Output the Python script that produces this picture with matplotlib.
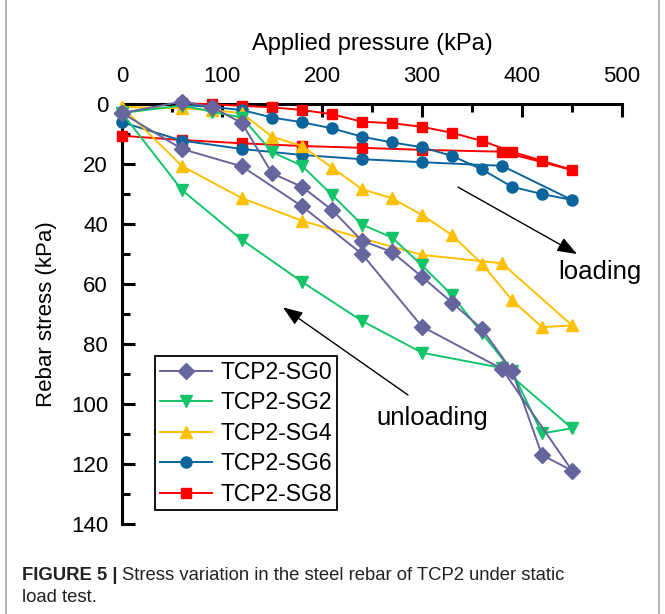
import matplotlib
matplotlib.use('Agg')
import matplotlib.pyplot as plt
from matplotlib.lines import Line2D
from matplotlib.ticker import MultipleLocator

plt.rcParams['font.family'] = ['Liberation Sans', 'DejaVu Sans']

# applied pressure steps (kPa)
x_load = [0, 60, 90, 120, 150, 180, 210, 240, 270, 300, 330, 360, 390, 420, 450]
x_load_late = [60, 90, 120, 150, 180, 210, 240, 270, 300, 330, 360, 390, 420, 450]
x_unload = [450, 380, 300, 240, 180, 120, 60, 0]

# rebar stress (kPa), loading then unloading
sg0_load = [3.0, -0.8, 1.0, 6.4, 23.1, 27.6, 35.3, 45.6, 49.3, 57.6, 66.2, 75.0, 88.9, 117.0, 122.2]
sg0_unload = [122.2, 88.3, 74.2, 50.0, 34.1, 20.8, 15.0, 3.0]

sg2_load = [3.0, 0.5, 2.6, 4.5, 16.0, 20.6, 30.3, 40.2, 44.5, 53.8, 63.7, 76.4, 89.0, 109.8, 108.1]
sg2_unload = [108.1, 88.0, 82.9, 72.3, 59.3, 45.3, 28.7, 3.0]

sg4_load = [1.0, 1.4, 2.0, 3.1, 10.9, 14.0, 21.2, 28.4, 31.4, 37.0, 43.7, 53.3, 65.3, 74.4, 73.8]
sg4_unload = [73.8, 53.1, 50.3, 44.8, 38.9, 31.4, 20.7, 1.0]

sg6_load = [0.3, 1.0, 2.0, 4.5, 6.1, 8.1, 10.9, 12.8, 14.4, 17.3, 21.8, 27.6, 30.0, 32.0]
sg6_unload = [32.0, 20.6, 19.4, 18.4, 17.0, 15.0, 12.2, 6.1]

sg8_load = [-0.3, 0.1, 0.6, 1.1, 2.0, 3.4, 5.9, 6.4, 7.6, 9.6, 12.3, 15.9, 18.9, 22.0]
sg8_unload = [22.0, 15.9, 15.3, 14.6, 14.0, 13.1, 12.0, 10.6]

series = [
    ('TCP2-SG0', x_load, sg0_load, sg0_unload, '#67659d', 'D', 8.5),
    ('TCP2-SG2', x_load, sg2_load, sg2_unload, '#13c46a', 'v', 8.5),
    ('TCP2-SG4', x_load, sg4_load, sg4_unload, '#ffc000', '^', 8.5),
    ('TCP2-SG6', x_load_late, sg6_load, sg6_unload, '#0b659c', 'o', 8),
    ('TCP2-SG8', x_load_late, sg8_load, sg8_unload, '#ff0000', 's', 7),
]

fig = plt.figure(figsize=(6.65, 6.14), dpi=100)
ax = fig.add_axes([122 / 665, 1 - 524 / 614, 500 / 665, 420 / 614])

# first series drawn on top
for i, (name, xl, yl, yu, col, mk, ms) in enumerate(series):
    xs = list(xl) + x_unload[1:]
    ys = list(yl) + yu[1:]
    ax.plot(xs, ys, color=col, marker=mk, markersize=ms, markeredgecolor=col,
            linewidth=1.4, label=name, clip_on=False, zorder=10 - i)

ax.set_xlim(0, 500)
ax.set_ylim(140, 0)
ax.xaxis.tick_top()
ax.xaxis.set_label_position('top')
ax.xaxis.set_major_locator(MultipleLocator(100))
ax.xaxis.set_minor_locator(MultipleLocator(50))
ax.yaxis.set_major_locator(MultipleLocator(20))
ax.yaxis.set_minor_locator(MultipleLocator(10))
for s in ['right', 'bottom']:
    ax.spines[s].set_visible(False)
for s in ['left', 'top']:
    ax.spines[s].set_linewidth(2.2)
ax.tick_params(which='major', direction='in', length=9, width=2.2, labelsize=16)
ax.tick_params(axis='x', which='major', pad=12)
ax.tick_params(axis='y', which='major', pad=10)
ax.tick_params(which='minor', direction='in', length=6, width=2.2)
ax.tick_params(axis='x', which='both', top=True, bottom=False)
ax.set_xlabel('Applied pressure (kPa)', fontsize=17, labelpad=12)
ax.set_ylabel('Rebar stress (kPa)', fontsize=16, labelpad=10)

ax.annotate('', xy=(455, 50), xytext=(336, 27.7),
            arrowprops=dict(arrowstyle='-|>,head_length=1.2,head_width=0.45',
                            color='black', lw=1.0, shrinkA=0, shrinkB=0))
ax.annotate('', xy=(161, 67.8), xytext=(286, 97),
            arrowprops=dict(arrowstyle='-|>,head_length=1.2,head_width=0.45',
                            color='black', lw=1.0, shrinkA=0, shrinkB=0))
ax.text(436, 56, 'loading', fontsize=18.5, va='center', ha='left')
ax.text(254, 104.7, 'unloading', fontsize=18.5, va='center', ha='left')

leg = ax.legend(loc='upper left', bbox_to_anchor=(0.066, 0.40), borderaxespad=0,
                fontsize=16.5, frameon=True, fancybox=False, framealpha=1,
                edgecolor='black', handlelength=2.3, labelspacing=0.33,
                borderpad=0.2, handletextpad=0.35)
leg.get_frame().set_linewidth(1.3)
leg.set_zorder(20)

# panel borders
for xf in [6 / 665, 659 / 665]:
    fig.add_artist(Line2D([xf, xf], [0, 1], color='#b8b8b8', lw=1.5))

cap_font = ['Liberation Sans Narrow', 'Liberation Sans', 'DejaVu Sans']
t1 = fig.text(22 / 665, 1 - 575 / 614, 'FIGURE 5 |', fontsize=13.3, fontweight='bold',
              family=cap_font, va='center', color='#222222')
fig.canvas.draw()
bb = t1.get_window_extent(fig.canvas.get_renderer())
fig.text(bb.x1 / 665 + 4 / 665, 1 - 575 / 614,
         'Stress variation in the steel rebar of TCP2 under static',
         fontsize=13.3, family=cap_font, va='center', color='#222222')
fig.text(22 / 665, 1 - 598 / 614, 'load test.', fontsize=13.3, family=cap_font,
         va='center', color='#222222')

fig.savefig('out.png', dpi=100)
